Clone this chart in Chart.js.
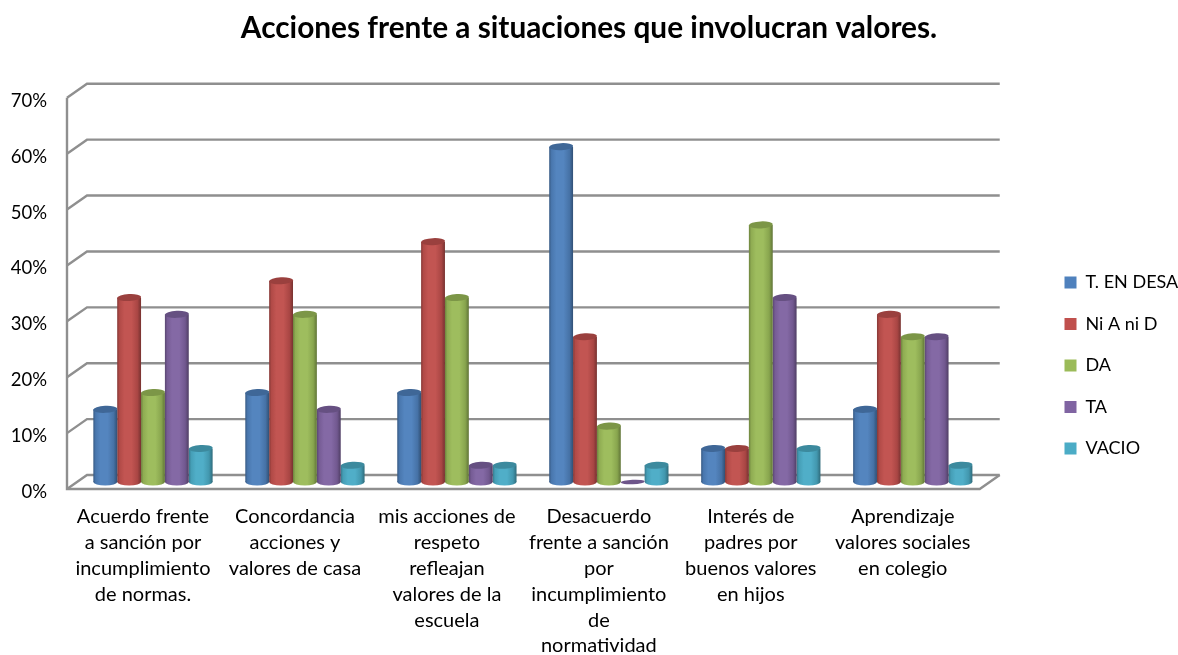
<!DOCTYPE html>
<html lang="es">
<head>
<meta charset="utf-8">
<title>Acciones frente a situaciones que involucran valores.</title>
<style>html,body{margin:0;padding:0;background:#fff}canvas{display:block}</style>
<script src="https://cdn.jsdelivr.net/npm/chart.js@4/dist/chart.umd.min.js"></script>
</head>
<body>
<canvas id="c" width="1178" height="655"></canvas>
<script>
const chartTitle = "Acciones frente a situaciones que involucran valores.";
const categories = [
  ["Acuerdo frente","a sanción por","incumplimiento","de normas."],
  ["Concordancia","acciones y","valores de casa"],
  ["mis acciones de","respeto","refleajan","valores de la","escuela"],
  ["Desacuerdo","frente a sanción","por","incumplimiento","de","normatividad"],
  ["Interés de","padres por","buenos valores","en hijos"],
  ["Aprendizaje","valores sociales","en colegio"]
];
const seriesNames = ["T. EN DESA","Ni A ni D","DA","TA","VACIO"];
const tEnDesa = [13,16,16,60,6,13];
const niAniD  = [33,36,43,26,6,30];
const da      = [16,30,33,10,46,26];
const ta      = [30,13,3,0,33,26];
const vacio   = [6,3,3,3,6,3];
const seriesColors = ["#4F81BD","#C0504D","#9BBB59","#8064A2","#4BACC6"];
const seriesValues = [tEnDesa,niAniD,da,ta,vacio];

const FONT = "Lato, 'Open Sans', sans-serif";
const DEPTH_X = 10, DEPTH_Y = 7, CAP_RY = 3.5, CAP_TILT = -0.05;

function shade(hex, f){
  const n = parseInt(hex.slice(1),16);
  const c = [n>>16,(n>>8)&255,n&255].map(v=>{
    const r = f<=1 ? v*f : v+(255-v)*(f-1);
    return Math.round(Math.min(255,r));
  });
  return `rgb(${c[0]},${c[1]},${c[2]})`;
}

const wallsPlugin = {
  id:'walls',
  beforeDatasetsDraw(chart){
    const {ctx, chartArea:a, scales:{y}} = chart;
    const fl = a.left-DEPTH_X, bl = a.left+DEPTH_X, br = a.right+DEPTH_X+1, fr = a.right-DEPTH_X+1;
    ctx.save();
    ctx.strokeStyle = '#8f8f8f';
    ctx.lineWidth = 2.4;
    y.ticks.forEach(t=>{
      const p = y.getPixelForValue(t.value);
      ctx.beginPath();
      ctx.moveTo(fl,p+DEPTH_Y);
      ctx.lineTo(bl,p-DEPTH_Y);
      ctx.lineTo(br,p-DEPTH_Y);
      ctx.stroke();
    });
    const top = y.getPixelForValue(y.max), zero = y.getPixelForValue(0);
    ctx.beginPath();
    ctx.moveTo(fl,top+DEPTH_Y);
    ctx.lineTo(fl,zero+DEPTH_Y);
    ctx.lineTo(fr,zero+DEPTH_Y);
    ctx.lineTo(br,zero-DEPTH_Y);
    ctx.stroke();
    ctx.restore();
  }
};

const cylinderPlugin = {
  id:'cylinder',
  beforeDatasetDraw(chart,{index,meta}){
    const ctx = chart.ctx, col = seriesColors[index];
    meta.data.forEach((el,i)=>{
      const l = el.x-el.width/2, r = el.x+el.width/2;
      const g = ctx.createLinearGradient(l,0,r,0);
      g.addColorStop(0,shade(col,.7));
      g.addColorStop(.1,shade(col,.92));
      g.addColorStop(.3,shade(col,1.03));
      g.addColorStop(.6,shade(col,1.03));
      g.addColorStop(.85,shade(col,.88));
      g.addColorStop(1,shade(col,.62));
      el.options = Object.assign({},el.options,{backgroundColor:g,borderWidth:0});
      if (seriesValues[index][i] > 0) {
        ctx.save();
        ctx.fillStyle = g;
        ctx.beginPath();
        ctx.ellipse(el.x,el.base,el.width/2,CAP_RY,0,0,Math.PI*2);
        ctx.fill();
        ctx.restore();
      }
    });
  },
  afterDatasetDraw(chart,{index,meta}){
    const ctx = chart.ctx, col = seriesColors[index];
    meta.data.forEach((el,i)=>{
      const v = seriesValues[index][i];
      ctx.save();
      ctx.fillStyle = v>0 ? shade(col,.8) : shade(col,.85);
      ctx.beginPath();
      ctx.ellipse(el.x,el.y,el.width/2,v>0?CAP_RY:2.2,CAP_TILT,0,Math.PI*2);
      ctx.fill();
      ctx.restore();
    });
  }
};

const placePlugin = {
  id:'place',
  afterLayout(chart){
    const lg = chart.legend;
    const w = lg.width, h = lg.height;
    lg.left = 1041; lg.right = lg.left+w;
    lg.top = lg.top+38; lg.bottom = lg.top+h;
    const tb = chart.titleBlock;
    tb.left += 21; tb.right += 21;
  }
};

new Chart(document.getElementById('c'),{
  type:'bar',
  plugins:[wallsPlugin,cylinderPlugin,placePlugin],
  data:{
    labels:categories,
    datasets:seriesNames.map((name,i)=>({
      label:name,
      data:seriesValues[i],
      backgroundColor:seriesColors[i],
      borderWidth:0,
      categoryPercentage:.785,
      barPercentage:1
    }))
  },
  options:{
    responsive:false,
    animation:false,
    devicePixelRatio:1,
    layout:{padding:{left:0,right:42,top:0,bottom:0}},
    plugins:{
      tooltip:{enabled:false},
      title:{
        display:true,text:chartTitle,color:'#000',
        font:{family:FONT,size:29.8,weight:'bold',lineHeight:1.2},
        padding:{top:11,bottom:44}
      },
      legend:{
        position:'right',
        labels:{
          color:'#000',font:{family:FONT,size:18},
          boxWidth:12,boxHeight:12,padding:23.5
        }
      }
    },
    scales:{
      x:{
        grid:{display:false,drawTicks:false},
        border:{display:false},
        ticks:{
          color:'#000',font:{family:FONT,size:20,lineHeight:1.29},
          autoSkip:false,maxRotation:0,minRotation:0,
          labelOffset:-DEPTH_X,padding:22
        },
        afterFit(s){ s.height = 173; }
      },
      y:{
        min:0,max:70,
        grid:{display:false,drawTicks:false},
        border:{display:false},
        ticks:{
          stepSize:10,color:'#000',font:{family:FONT,size:18.5},
          padding:30,labelOffset:DEPTH_Y+3,
          callback:v=>v+'%'
        },
        afterFit(s){ s.width = 77; }
      }
    }
  }
});
</script>
</body>
</html>
